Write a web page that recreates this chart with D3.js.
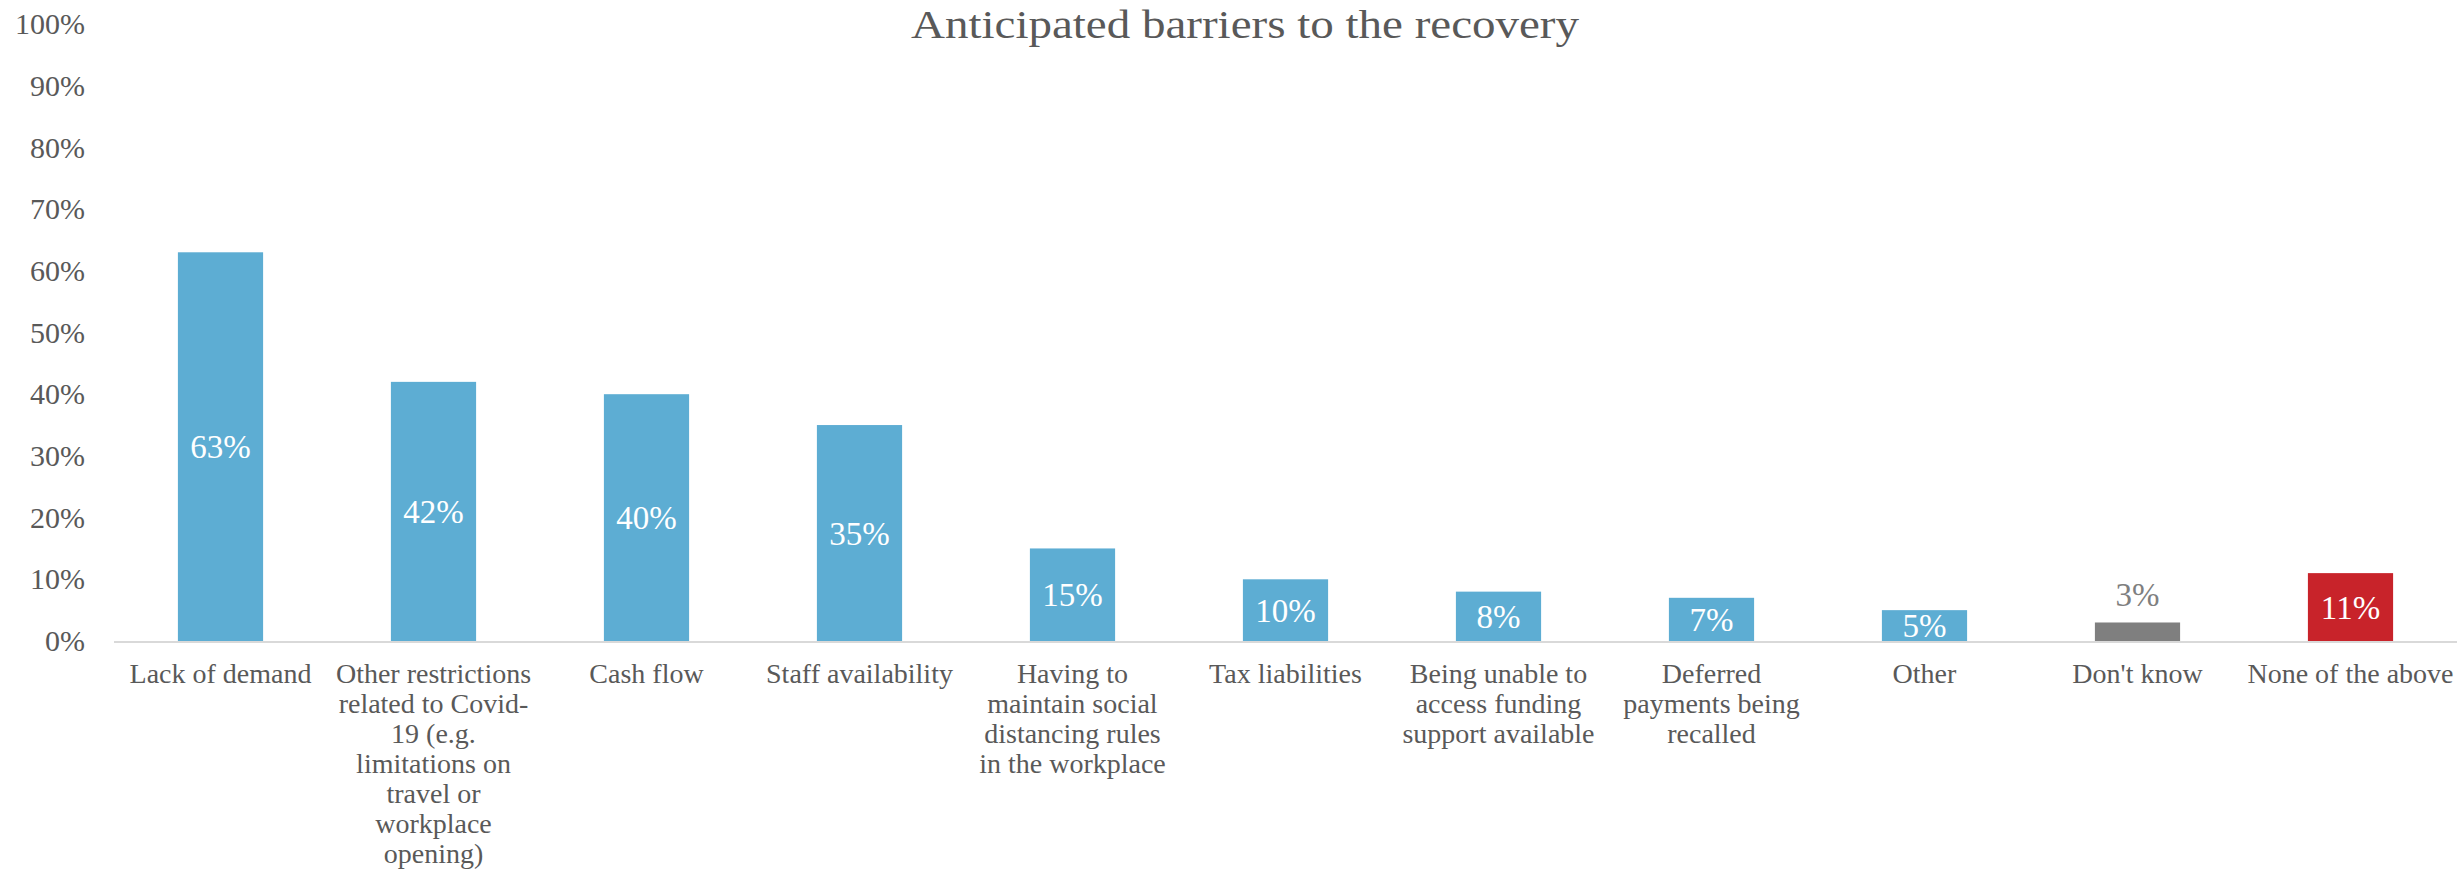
<!DOCTYPE html>
<html>
<head>
<meta charset="utf-8">
<script src="https://cdn.jsdelivr.net/npm/d3@7"></script>
<style>
  html, body { margin: 0; padding: 0; background: #ffffff; }
  svg { display: block; }
  text { font-family: "Liberation Serif", "DejaVu Serif", serif; }
</style>
</head>
<body>
<svg id="chart" width="2464" height="872"></svg>
<script>
// Survey responses: share of businesses citing each barrier
const categories = [
  ["Lack of demand"],
  ["Other restrictions", "related to Covid-", "19 (e.g.", "limitations on", "travel or", "workplace", "opening)"],
  ["Cash flow"],
  ["Staff availability"],
  ["Having to", "maintain social", "distancing rules", "in the workplace"],
  ["Tax liabilities"],
  ["Being unable to", "access funding", "support available"],
  ["Deferred", "payments being", "recalled"],
  ["Other"],
  ["Don't know"],
  ["None of the above"]
];
const values = [63, 42, 40, 35, 15, 10, 8, 7, 5, 3, 11];
const barGroups = ["main", "main", "main", "main", "main", "main", "main", "main", "main", "dk", "none"];
const yTicks = [0, 10, 20, 30, 40, 50, 60, 70, 80, 90, 100];
const title = "Anticipated barriers to the recovery";

const colors = { main: "#5DADD3", dk: "#7F7F7F", none: "#C8232A" };
const textGrey = "#595959";

const svg = d3.select("#chart");
const margin = { left: 114, right: 7, top: 24, bottom: 231 };
const W = 2464, H = 872;

const x = d3.scaleBand()
  .domain(d3.range(values.length))
  .range([margin.left, W - margin.right])
  .paddingInner(0.6)
  .paddingOuter(0.3);

const y = d3.scaleLinear()
  .domain([0, 100])
  .range([H - margin.bottom, margin.top]);

// Title
svg.append("text")
  .attr("x", 1245)
  .attr("y", 38)
  .attr("text-anchor", "middle")
  .attr("font-size", 40)
  .attr("fill", textGrey)
  .attr("textLength", 668)
  .attr("lengthAdjust", "spacingAndGlyphs")
  .text(title);

// Y axis labels (no line, no ticks)
const yAxis = d3.axisLeft(y)
  .tickValues(yTicks)
  .tickFormat(d => d + "%")
  .tickSize(0)
  .tickPadding(0);
const yG = svg.append("g")
  .attr("transform", `translate(${margin.left - 29},0)`)
  .call(yAxis);
yG.select(".domain").remove();
yG.selectAll("text")
  .attr("font-size", 30)
  .attr("font-family", "Liberation Serif, serif")
  .attr("fill", textGrey);

// Bars
svg.append("g").selectAll("rect")
  .data(values)
  .join("rect")
  .attr("x", (d, i) => x(i))
  .attr("width", x.bandwidth())
  .attr("y", d => y(d))
  .attr("height", d => y(0) - y(d))
  .attr("fill", (d, i) => colors[barGroups[i]]);

// Baseline
svg.append("line")
  .attr("x1", margin.left)
  .attr("x2", W - margin.right)
  .attr("y1", y(0) + 1)
  .attr("y2", y(0) + 1)
  .attr("stroke", "#D9D9D9")
  .attr("stroke-width", 2);

// Value labels: centred in the bar, or above it when the bar is too short
svg.append("g").selectAll("text")
  .data(values)
  .join("text")
  .attr("x", (d, i) => x(i) + x.bandwidth() / 2)
  .attr("y", d => d < 4 ? y(d) - 28 : y(d / 2))
  .attr("dy", "0.35em")
  .attr("text-anchor", "middle")
  .attr("font-size", 33)
  .attr("fill", (d, i) => barGroups[i] === "dk" ? "#7F7F7F" : "#ffffff")
  .text(d => d + "%");

// Category labels
const xLab = svg.append("g").selectAll("text")
  .data(categories)
  .join("text")
  .attr("x", (d, i) => x(i) + x.bandwidth() / 2)
  .attr("y", 683)
  .attr("text-anchor", "middle")
  .attr("font-size", 28)
  .attr("fill", textGrey);
xLab.selectAll("tspan")
  .data(d => d)
  .join("tspan")
  .attr("x", function () { return d3.select(this.parentNode).attr("x"); })
  .attr("dy", (d, j) => j === 0 ? 0 : 30)
  .text(d => d);
</script>
</body>
</html>
